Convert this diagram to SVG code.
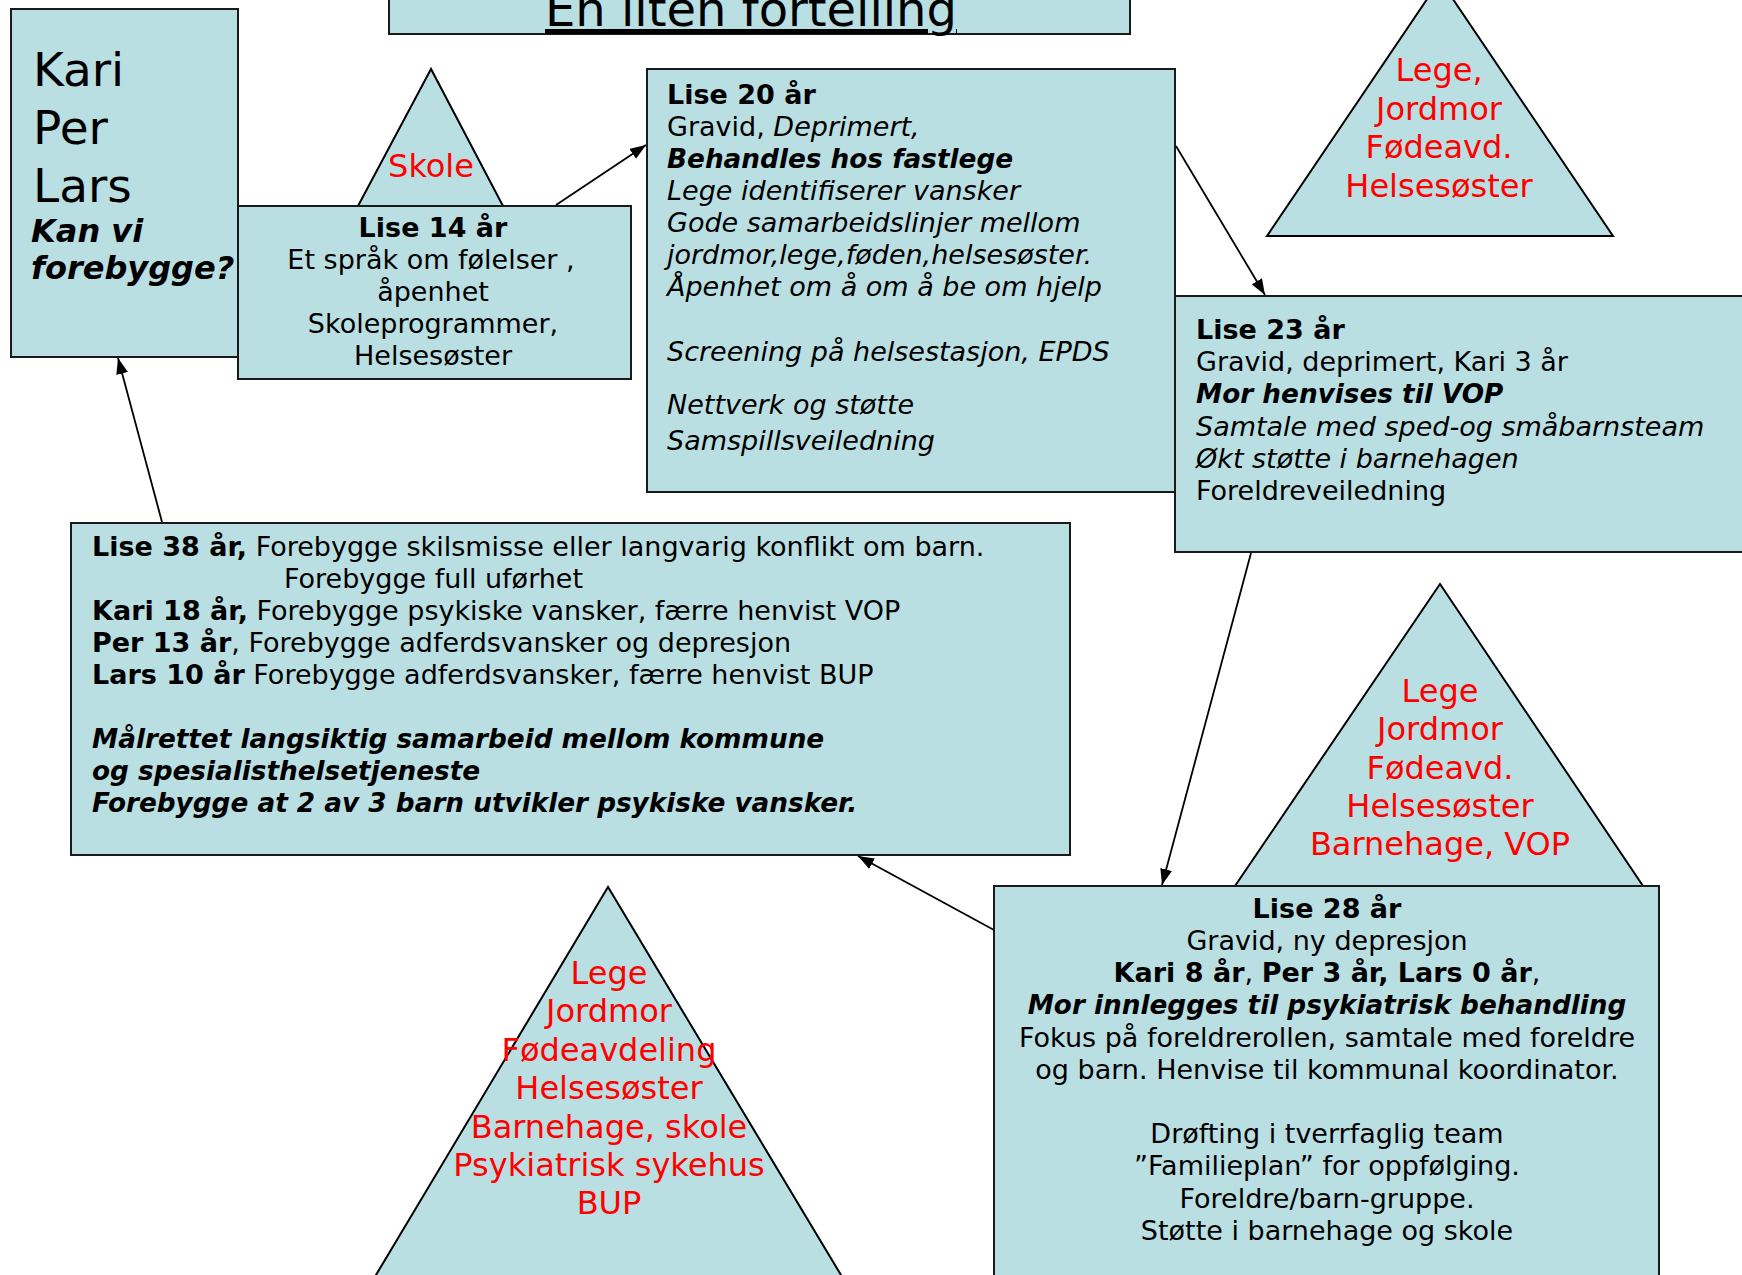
<svg xmlns="http://www.w3.org/2000/svg" width="1742" height="1275" viewBox="0 0 1742 1275">
<defs>
<style>
.box{fill:#BADFE2;stroke:#1a1a1a;stroke-width:2}
.tri{fill:#BADFE2;stroke:#000;stroke-width:2}
text{font-family:"DejaVu Sans",Verdana,"Liberation Sans",sans-serif;font-size:27px;fill:#000}
.red{fill:#FF0000;font-size:32px;text-anchor:middle}
.b{font-weight:bold}
.i{font-style:italic}
.bi{font-weight:bold;font-style:italic;font-size:26.3px}
.c{text-anchor:middle}
.conn{stroke:#000;stroke-width:1.8;fill:none;marker-end:url(#arr)}
</style>
<marker id="arr" viewBox="0 0 10 10" refX="10" refY="5" markerWidth="16" markerHeight="12" markerUnits="userSpaceOnUse" orient="auto" preserveAspectRatio="none">
<path d="M0,0 L10,5 L0,10 z" fill="#000"/>
</marker>
</defs>
<rect width="1742" height="1275" fill="#fff"/>

<g id="title">
<rect class="box" x="389" y="-20" width="741" height="54"/>
<text x="751" y="26" class="c" style="font-size:48px;text-decoration:underline">En liten fortelling</text>
</g>

<g id="kari">
<rect class="box" x="11" y="9" width="227" height="348"/>
<text x="33" y="86" style="font-size:47px">Kari</text>
<text x="33" y="144" style="font-size:47px">Per</text>
<text x="33" y="202" style="font-size:47px">Lars</text>
<text x="31" y="242" class="bi" style="font-size:32px">Kan vi</text>
<text x="31" y="279" class="bi" style="font-size:32px">forebygge?</text>
</g>

<g id="skole">
<polygon class="tri" points="431,69 358,206 503,206"/>
<text x="431" y="177" class="red">Skole</text>
</g>

<g id="lise14">
<rect class="box" x="238" y="206" width="393" height="173"/>
<text x="433" y="237" class="c b">Lise 14 år</text>
<text x="431" y="269" class="c">Et språk om følelser ,</text>
<text x="433" y="301" class="c">åpenhet</text>
<text x="433" y="333" class="c">Skoleprogrammer,</text>
<text x="433" y="365" class="c">Helsesøster</text>
</g>

<g id="lise20">
<rect class="box" x="647" y="69" width="528" height="423"/>
<text x="667" y="104" class="b">Lise 20 år</text>
<text x="667" y="136">Gravid, <tspan class="i">Deprimert,</tspan></text>
<text x="667" y="168" class="bi">Behandles hos fastlege</text>
<text x="667" y="200" class="i">Lege identifiserer vansker</text>
<text x="667" y="232" class="i">Gode samarbeidslinjer mellom</text>
<text x="667" y="264" class="i">jordmor,lege,føden,helsesøster.</text>
<text x="667" y="296" class="i">Åpenhet om å om å be om hjelp</text>
<text x="667" y="361" class="i">Screening på helsestasjon, EPDS</text>
<text x="667" y="414" class="i">Nettverk og støtte</text>
<text x="667" y="450" class="i">Samspillsveiledning</text>
</g>

<g id="lege1">
<polygon class="tri" points="1440,-20 1267,236 1613,236"/>
<text x="1439" y="81" class="red">Lege,</text>
<text x="1439" y="120" class="red">Jordmor</text>
<text x="1439" y="158" class="red">Fødeavd.</text>
<text x="1439" y="197" class="red">Helsesøster</text>
</g>

<g id="lise23">
<rect class="box" x="1175" y="296" width="580" height="256"/>
<text x="1196" y="339" class="b">Lise 23 år</text>
<text x="1196" y="371">Gravid, deprimert, Kari 3 år</text>
<text x="1196" y="403" class="bi">Mor henvises til VOP</text>
<text x="1196" y="436" class="i">Samtale med sped-og småbarnsteam</text>
<text x="1196" y="468" class="i">Økt støtte i barnehagen</text>
<text x="1196" y="500">Foreldreveiledning</text>
</g>

<g id="lise38">
<rect class="box" x="71" y="523" width="999" height="332"/>
<text x="92" y="556"><tspan class="b">Lise 38 år,</tspan> Forebygge skilsmisse eller langvarig konflikt om barn.</text>
<text x="284" y="588">Forebygge full uførhet</text>
<text x="92" y="620"><tspan class="b">Kari 18 år,</tspan> Forebygge psykiske vansker, færre henvist VOP</text>
<text x="92" y="652"><tspan class="b">Per 13 år</tspan>, Forebygge adferdsvansker og depresjon</text>
<text x="92" y="684"><tspan class="b">Lars 10 år</tspan> Forebygge adferdsvansker, færre henvist BUP</text>
<text x="92" y="748" class="bi">Målrettet langsiktig samarbeid mellom kommune</text>
<text x="92" y="780" class="bi">og spesialisthelsetjeneste</text>
<text x="92" y="812" class="bi">Forebygge at 2 av 3 barn utvikler psykiske vansker.</text>
</g>

<g id="lege2">
<polygon class="tri" points="1440,584 1235,886 1643,886"/>
<text x="1440" y="702" class="red">Lege</text>
<text x="1440" y="740" class="red">Jordmor</text>
<text x="1440" y="779" class="red">Fødeavd.</text>
<text x="1440" y="817" class="red">Helsesøster</text>
<text x="1440" y="855" class="red">Barnehage, VOP</text>
</g>

<g id="lise28">
<rect class="box" x="994" y="886" width="665" height="400"/>
<text x="1327" y="918" class="c b">Lise 28 år</text>
<text x="1327" y="950" class="c">Gravid, ny depresjon</text>
<text x="1327" y="982" class="c"><tspan class="b">Kari 8 år</tspan>, <tspan class="b">Per 3 år, Lars 0 år</tspan>,</text>
<text x="1327" y="1014" class="c bi">Mor innlegges til psykiatrisk behandling</text>
<text x="1327" y="1047" class="c">Fokus på foreldrerollen, samtale med foreldre</text>
<text x="1327" y="1079" class="c">og barn. Henvise til kommunal koordinator.</text>
<text x="1327" y="1143" class="c">Drøfting i tverrfaglig team</text>
<text x="1327" y="1175" class="c">”Familieplan” for oppfølging.</text>
<text x="1327" y="1208" class="c">Foreldre/barn-gruppe.</text>
<text x="1327" y="1240" class="c">Støtte i barnehage og skole</text>
</g>

<g id="lege3">
<polygon class="tri" points="608,887 370,1285 847,1285"/>
<text x="609" y="984" class="red">Lege</text>
<text x="609" y="1022" class="red">Jordmor</text>
<text x="609" y="1061" class="red">Fødeavdeling</text>
<text x="609" y="1099" class="red">Helsesøster</text>
<text x="609" y="1138" class="red">Barnehage, skole</text>
<text x="609" y="1176" class="red">Psykiatrisk sykehus</text>
<text x="609" y="1214" class="red">BUP</text>
</g>

<g id="connectors">
<line class="conn" x1="556" y1="205" x2="646" y2="145"/>
<line class="conn" x1="1176" y1="146" x2="1265" y2="295"/>
<line class="conn" x1="1251" y1="553" x2="1162" y2="885"/>
<line class="conn" x1="994" y1="930" x2="858" y2="856"/>
<line class="conn" x1="162" y1="522" x2="118" y2="358"/>
</g>
</svg>
